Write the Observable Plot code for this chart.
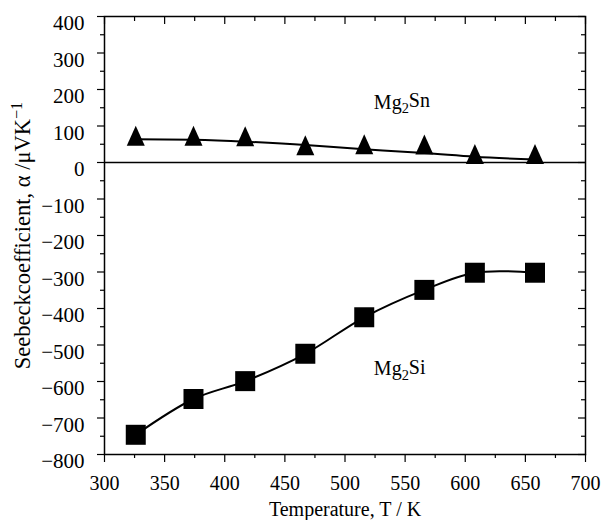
<!DOCTYPE html>
<html>
<head>
<meta charset="utf-8">
<script src="https://cdn.jsdelivr.net/npm/d3@7"></script>
<script src="https://cdn.jsdelivr.net/npm/@observablehq/plot@0.6"></script>
<style>
  html, body { margin: 0; padding: 0; background: #fff; }
  #chart { width: 601px; height: 520px; }
</style>
</head>
<body>
<div id="chart"></div>
<script>
// ---- data ----
const temperature = [326, 374, 417, 467, 516, 566, 608, 658];
const mg2snPoints = [73, 73, 72, 47, 50, 49, 23, 23];
const mg2snFit    = [64, 62, 57, 48, 36, 26, 16, 8];
const mg2siPoints = [-746, -648, -599, -524, -424, -349, -302, -302];

const xTicks = [300, 350, 400, 450, 500, 550, 600, 650, 700];
const xMinorTicks = [325, 375, 425, 475, 525, 575, 625, 675];
const yTicks = [-800, -700, -600, -500, -400, -300, -200, -100, 0, 100, 200, 300, 400];
const yMinorTicks = [-750, -650, -550, -450, -350, -250, -150, -50, 50, 150, 250, 350];

const seriesLabels = [
  {name: "Mg2Sn", t: 524, v: 147},
  {name: "Mg2Si", t: 524, v: -583}
];
const xLabel = "Temperature, T / K";
const yLabel = "Seebeckcoefficient, α /μVK";

// ---- tables ----
const snPts = temperature.map((t, i) => ({t, v: mg2snPoints[i]}));
const snFit = temperature.map((t, i) => ({t, v: mg2snFit[i]}));
const siPts = temperature.map((t, i) => ({t, v: mg2siPoints[i]}));

const W = 601, H = 520;
const M = {top: 16, right: 16, bottom: 66, left: 104};
const PW = W - M.left - M.right, PH = H - M.top - M.bottom;

const triangle = {draw(ctx) { ctx.moveTo(0, -10); ctx.lineTo(9, 10); ctx.lineTo(-9, 10); ctx.closePath(); }};
const square = {draw(ctx) { ctx.rect(-10, -10, 20, 20); }};

const fmt = d => d < 0 ? "\u2212" + (-d) : String(d);

const chart = Plot.plot({
  width: W, height: H,
  marginTop: M.top, marginRight: M.right, marginBottom: M.bottom, marginLeft: M.left,
  style: {fontFamily: "'Liberation Serif', 'Times New Roman', serif", fontSize: "20px", color: "#000", background: "#fff"},
  x: {domain: [300, 700], axis: null},
  y: {domain: [-800, 400], axis: null},
  marks: [
    // left axis: outward ticks
    Plot.tickY(yTicks, {y: d => d, insetLeft: -7, insetRight: PW, strokeWidth: 1.2}),
    Plot.tickY(yMinorTicks, {y: d => d, insetLeft: -4, insetRight: PW, strokeWidth: 1.2}),
    // right axis: inward ticks
    Plot.tickY(yTicks, {y: d => d, insetLeft: PW - 7, strokeWidth: 1.2}),
    Plot.tickY(yMinorTicks, {y: d => d, insetLeft: PW - 4, strokeWidth: 1.2}),
    // bottom axis: outward ticks
    Plot.tickX(xTicks, {x: d => d, insetTop: PH, insetBottom: -8, strokeWidth: 1.2}),
    Plot.tickX(xMinorTicks, {x: d => d, insetTop: PH, insetBottom: -4, strokeWidth: 1.2}),
    // top axis: inward ticks
    Plot.tickX(xTicks, {x: d => d, insetBottom: PH - 8, strokeWidth: 1.2}),
    Plot.tickX(xMinorTicks, {x: d => d, insetBottom: PH - 5, strokeWidth: 1.2}),
    Plot.frame({stroke: "#000", strokeWidth: 1.5}),
    Plot.ruleY([0], {stroke: "#000", strokeWidth: 1.6}),
    // tick labels
    Plot.text(yTicks, {y: d => d, frameAnchor: "left", dx: -20, dy: 7, textAnchor: "end", text: fmt, fill: "#000", fontSize: 21}),
    Plot.text(xTicks, {x: d => d, frameAnchor: "bottom", dy: 21, lineAnchor: "top", text: fmt, fill: "#000"}),
    // curves
    Plot.line(snFit, {x: "t", y: "v", curve: "natural", stroke: "#000", strokeWidth: 2}),
    Plot.line(siPts, {x: "t", y: "v", curve: "catmull-rom", stroke: "#000", strokeWidth: 2}),
    // markers
    Plot.dot(snPts, {x: "t", y: "v", symbol: triangle, fill: "#000", stroke: "none"}),
    Plot.dot(siPts, {x: "t", y: "v", symbol: square, fill: "#000", stroke: "none"}),
    // series labels
    Plot.text(seriesLabels, {x: "t", y: "v", text: "name", textAnchor: "start", lineAnchor: "bottom", fill: "#000"}),
    // axis titles
    Plot.text([xLabel], {frameAnchor: "bottom", textAnchor: "middle", text: d => d, dy: 61, lineAnchor: "bottom", fill: "#000"}),
    Plot.text([yLabel], {frameAnchor: "left", textAnchor: "middle", text: d => d, dx: -75, rotate: -90, lineAnchor: "bottom", fontSize: 22.5, fill: "#000"})
  ]
});

// subscripts / superscript as real tspans
d3.select(chart).selectAll("text").each(function() {
  const t = this.textContent;
  const sel = d3.select(this);
  if (t === "Mg2Sn" || t === "Mg2Si") {
    sel.text("");
    sel.append("tspan").text("Mg");
    sel.append("tspan").attr("dy", "0.3em").attr("font-size", "0.72em").text("2");
    sel.append("tspan").attr("dy", "-0.3em").text(t.slice(3));
  } else if (t === yLabel) {
    sel.append("tspan").attr("dy", "-0.45em").attr("font-size", "0.72em").text("\u22121");
  }
});

document.getElementById("chart").appendChild(chart);
</script>
</body>
</html>
